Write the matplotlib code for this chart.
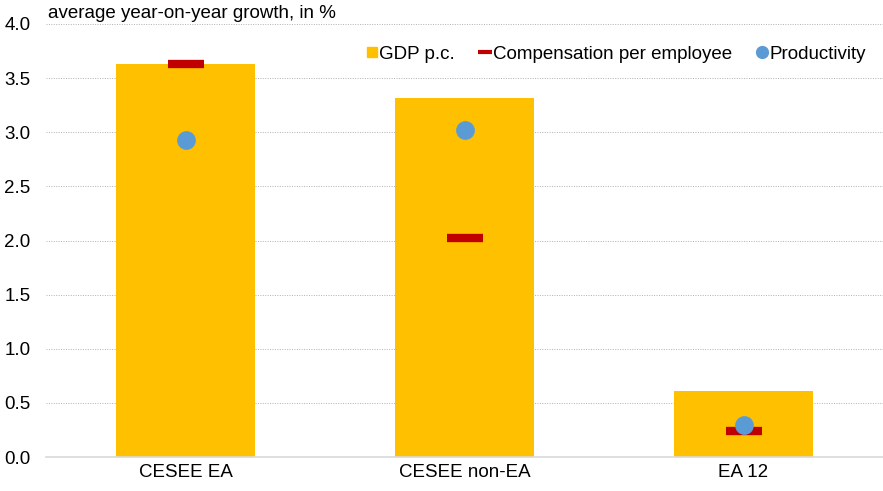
import matplotlib.pyplot as plt
import numpy as np
from matplotlib.lines import Line2D

plt.rcParams['font.family'] = ['Liberation Sans', 'DejaVu Sans']

regions = ["CESEE EA", "CESEE non-EA", "EA 12"]
gdp_pc = [3.63, 3.32, 0.61]
compensation = [3.63, 2.02, 0.24]
productivity = [2.93, 3.02, 0.30]
yticks = [0.0, 0.5, 1.0, 1.5, 2.0, 2.5, 3.0, 3.5, 4.0]

fig = plt.figure(figsize=(8.83, 4.91), dpi=100)
ax = fig.add_axes([46/883, 1 - 457/491, 837/883, 433/491])

x = np.arange(len(regions))
ax.bar(x, gdp_pc, width=0.5, color='#FFC000', label='GDP p.c.', zorder=2)
ax.plot(x, compensation, linestyle='none', marker='_', markersize=26,
        markeredgewidth=6, color='#C00000', label='Compensation per employee', zorder=3)
ax.plot(x, productivity, linestyle='none', marker='o', markersize=13.5,
        color='#5B9BD5', markeredgewidth=0, label='Productivity', zorder=4)

ax.set_xlim(-0.5, 2.5)
ax.set_ylim(0, 4.0)
ax.set_yticks(yticks)
ax.set_yticklabels([f"{v:.1f}" for v in yticks], fontsize=13.5)
ax.set_xticks(x)
ax.set_xticklabels(regions, fontsize=13.5)
ax.tick_params(axis='x', length=0, pad=5)
ax.tick_params(axis='y', length=0, pad=11)
ax.yaxis.grid(True, linestyle=(0, (1, 1.5)), color='#B0B0B0', linewidth=0.7, zorder=0)
for s in ['top', 'right', 'left']:
    ax.spines[s].set_visible(False)
ax.spines['bottom'].set_color('#D9D9D9')
ax.spines['bottom'].set_linewidth(1.2)

fig.text(48/883, 1 - 13/491, "average year-on-year growth, in %", fontsize=13.5,
         va='center', ha='left')

handles = [
    Line2D([], [], linestyle='none', marker='s', markersize=7.5, color='#FFC000'),
    Line2D([], [], linestyle='none', marker='_', markersize=10, markeredgewidth=3, color='#C00000'),
    Line2D([], [], linestyle='none', marker='o', markersize=8.5, color='#5B9BD5'),
]
ax.legend(handles, ['GDP p.c.', 'Compensation per employee', 'Productivity'],
          loc='upper right', bbox_to_anchor=(0.995, 0.98), ncol=3, frameon=False,
          fontsize=13.5, handlelength=0.6, handletextpad=0.1, columnspacing=1.3,
          borderpad=0.2)

fig.savefig('out.png', dpi=100)
